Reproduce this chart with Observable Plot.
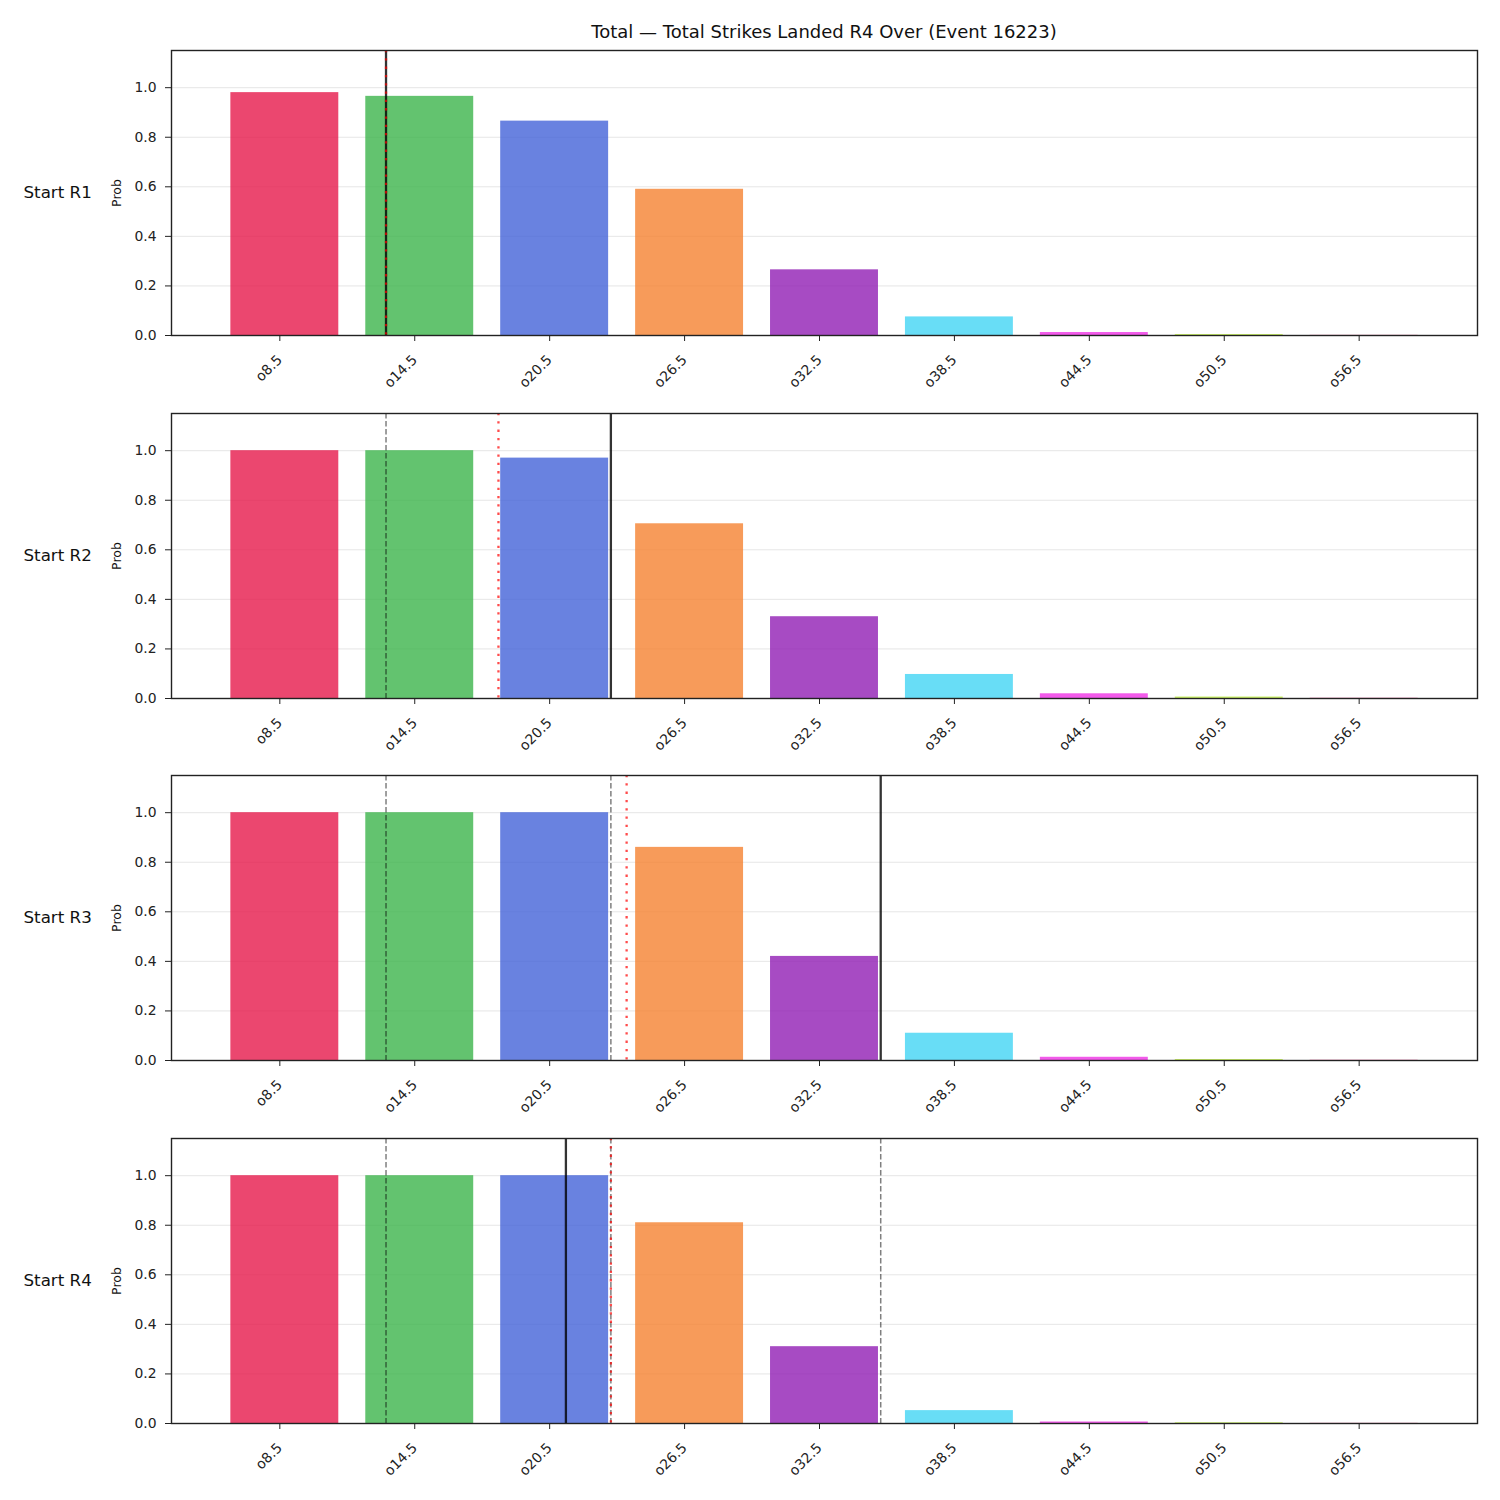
<!DOCTYPE html>
<html><head><meta charset="utf-8">
<script src="https://cdn.jsdelivr.net/npm/d3@7"></script>
<script src="https://cdn.jsdelivr.net/npm/@observablehq/plot@0.6"></script>
<style>
body{margin:0;background:#fff;font-family:"DejaVu Sans",sans-serif;}
#wrap{position:relative;width:1500px;height:1500px;overflow:hidden;}
#title{position:absolute;left:171px;width:1306px;top:21.5px;text-align:center;font-size:18px;line-height:20px;color:#111;}
.panel{position:absolute;left:0;}
</style></head>
<body><div id="wrap"><div id="title">Total — Total Strikes Landed R4 Over (Event 16223)</div></div>
<script>
const categories = ["o8.5","o14.5","o20.5","o26.5","o32.5","o38.5","o44.5","o50.5","o56.5"];
const barColors = ["#e6194b","#3cb44b","#4363d8","#f58231","#911eb4","#42d4f4","#f032e6","#bfef45","#fabed4"];
const rowLabels = ["Start R1","Start R2","Start R3","Start R4"];
const probR1 = [0.98, 0.965, 0.865, 0.59, 0.265, 0.075, 0.012, 0.004, 0.002];
const probR2 = [1.0, 1.0, 0.97, 0.705, 0.33, 0.097, 0.019, 0.006, 0.003];
const probR3 = [1.0, 1.0, 1.0, 0.86, 0.42, 0.11, 0.013, 0.004, 0.003];
const probR4 = [1.0, 1.0, 1.0, 0.81, 0.31, 0.052, 0.006, 0.003, 0.002];
// vertical reference lines, in strike units
const dashedR1 = [], dashedR2 = [13], dashedR3 = [13, 23], dashedR4 = [13, 23, 35];
const solidR1 = [13], solidR2 = [23], solidR3 = [35], solidR4 = [21];
const dottedR1 = [13], dottedR2 = [18], dottedR3 = [23.7], dottedR4 = [23];
const yTicks = [0, 0.2, 0.4, 0.6, 0.8, 1.0];

const probs = [probR1, probR2, probR3, probR4];
const dashed = [dashedR1, dashedR2, dashedR3, dashedR4];
const solid = [solidR1, solidR2, solidR3, solidR4];
const dotted = [dottedR1, dottedR2, dottedR3, dottedR4];
const lines = categories.map(c => parseFloat(c.slice(1)));
const step = lines[1] - lines[0];
const halfW = step * 0.4;
const pad = step * 0.84;

const wrap = document.getElementById("wrap");
probs.forEach((p, i) => {
  const rows = categories.map((c, j) => ({line: lines[j], p: p[j], color: barColors[j]}));
  const chart = Plot.plot({
    width: 1500, height: 362,
    marginLeft: 171, marginRight: 23, marginTop: 5, marginBottom: 72,
    style: {fontFamily: "DejaVu Sans", fontSize: "13.9px", background: "transparent", color: "#222", overflow: "visible"},
    x: {domain: [lines[0] - pad, lines[lines.length - 1] + pad]},
    y: {domain: [0, 1.15]},
    color: {type: "identity"},
    marks: [
      Plot.gridY(yTicks, {stroke: "#e3e3e3", strokeOpacity: 1, strokeWidth: 0.9}),
      Plot.rectY(rows, {x1: d => d.line - halfW, x2: d => d.line + halfW, y1: 0, y2: "p", fill: "color", fillOpacity: 0.8}),
      Plot.ruleX(dashed[i], {stroke: "black", strokeOpacity: 0.5, strokeWidth: 1.5, strokeDasharray: "5.5,2.5"}),
      Plot.ruleX(solid[i], {stroke: "black", strokeOpacity: 0.8, strokeWidth: 2.3}),
      Plot.ruleX(dotted[i], {stroke: "red", strokeOpacity: 0.7, strokeWidth: 2.3, strokeDasharray: "2.3,6"}),
      Plot.frame({stroke: "#222", strokeWidth: 1.4}),
      Plot.axisX({ticks: lines, tickFormat: d => "o" + d, tickRotate: -45, tickSize: 6, tickPadding: 16, dx: -5, label: null, fontSize: 13.9}),
      Plot.axisY({ticks: yTicks, tickFormat: d3.format(".1f"), tickSize: 6, tickPadding: 9, label: null, fontSize: 13.9}),
      Plot.text([rowLabels[i]], {frameAnchor: "left", dx: -148, textAnchor: "start", fontSize: 16.7, fill: "#111"}),
      Plot.text(["Prob"], {frameAnchor: "left", dx: -55, rotate: -90, textAnchor: "middle", fontSize: 12.5, fill: "#111"})
    ]
  });
  chart.classList.add("panel");
  chart.style.top = (45 + i * 362.5) + "px";
  wrap.appendChild(chart);
});
</script></body></html>
